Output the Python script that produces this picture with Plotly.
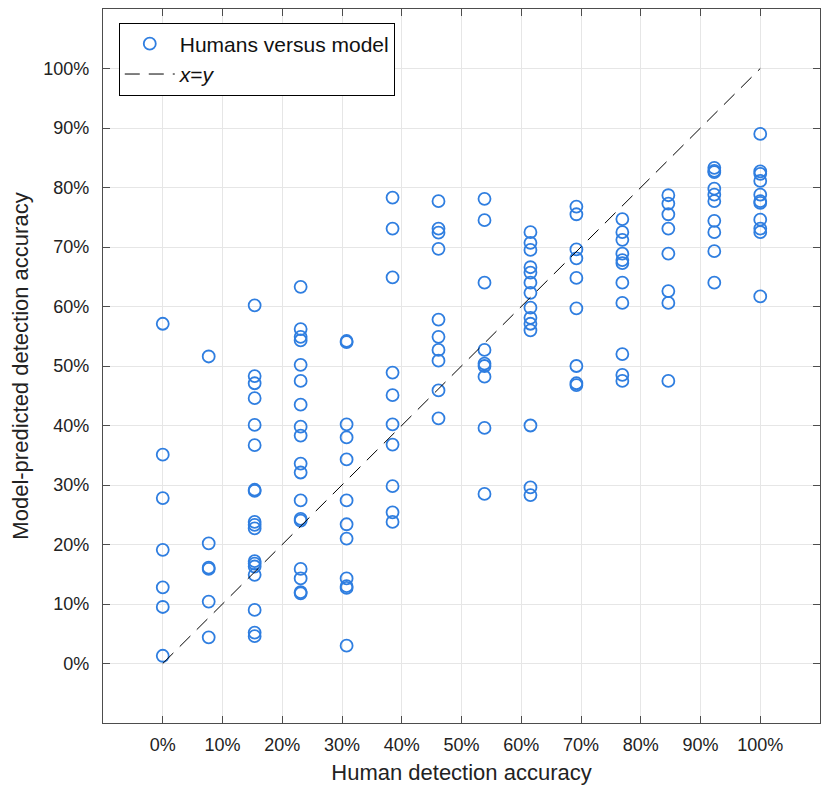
import plotly.graph_objects as go

# Human detection accuracy levels (k/13) and model-predicted accuracies per level
human_levels = [0.0, 7.69, 15.38, 23.08, 30.77, 38.46, 46.15, 53.85, 61.54, 69.23, 76.92, 84.62, 92.31, 100.0]

model_0 = [57.1, 35.1, 27.8, 19.1, 12.8, 9.5, 1.3]
model_8 = [51.6, 20.2, 16.1, 15.9, 10.4, 4.4]
model_15 = [60.2, 48.3, 47.1, 44.6, 40.1, 36.7, 29.2, 29.0, 23.8, 23.3, 22.7, 17.2, 16.8, 16.3, 14.9, 9.0, 5.2, 4.6]
model_23 = [63.3, 56.2, 54.9, 54.3, 50.2, 47.5, 43.5, 39.8, 38.3, 33.6, 32.1, 27.4, 24.3, 24.0, 15.9, 14.3, 12.0, 11.8]
model_31 = [54.2, 54.0, 40.2, 38.0, 34.3, 27.4, 23.4, 21.0, 14.3, 13.0, 12.7, 3.0]
model_38 = [78.3, 73.1, 64.9, 48.9, 45.1, 40.2, 36.8, 29.8, 25.4, 23.8]
model_46 = [77.7, 73.1, 72.4, 69.7, 57.8, 54.9, 52.7, 50.9, 45.9, 41.2]
model_54 = [78.1, 74.5, 64.0, 52.7, 50.4, 50.0, 48.2, 39.6, 28.5]
model_62 = [72.5, 70.7, 69.5, 66.6, 65.7, 64.0, 62.3, 59.8, 58.1, 57.1, 56.0, 40.0, 29.6, 28.3]
model_69 = [76.8, 75.5, 69.6, 68.1, 64.8, 59.7, 50.0, 47.1, 46.8]
model_77 = [74.7, 72.5, 71.2, 68.9, 67.8, 67.3, 64.0, 60.6, 52.0, 48.5, 47.5]
model_85 = [78.7, 77.3, 75.5, 73.1, 68.9, 62.6, 60.6, 47.5]
model_92 = [83.3, 82.8, 82.6, 79.8, 78.8, 77.7, 74.4, 72.5, 69.3, 64.0]
model_100 = [89.0, 82.7, 82.3, 81.1, 78.8, 77.7, 77.4, 74.6, 73.1, 72.5, 61.7]

model_by_level = [model_0, model_8, model_15, model_23, model_31, model_38, model_46,
                  model_54, model_62, model_69, model_77, model_85, model_92, model_100]

diag = [0, 100]
tick_vals = [0, 10, 20, 30, 40, 50, 60, 70, 80, 90, 100]
tick_text = ["0%", "10%", "20%", "30%", "40%", "50%", "60%", "70%", "80%", "90%", "100%"]

xs, ys = [], []
for lvl, vals in zip(human_levels, model_by_level):
    for v in vals:
        xs.append(lvl)
        ys.append(v)

fig = go.Figure()
fig.add_trace(go.Scatter(
    x=xs, y=ys, mode="markers", name="Humans versus model",
    marker=dict(symbol="circle-open", size=12, color="rgb(47,126,224)",
                line=dict(width=1.8, color="rgb(47,126,224)")),
))
fig.add_trace(go.Scatter(
    x=diag, y=diag, mode="lines", name="<i>x</i>=<i>y</i>",
    line=dict(color="black", width=1, dash="15px,9px"),
))

axis_common = dict(
    range=[-10, 110], tickvals=tick_vals, ticktext=tick_text,
    showgrid=True, gridcolor="#e6e6e6", gridwidth=1,
    zeroline=False, showline=True, linecolor="#4d4d4d", linewidth=1.2,
    mirror="allticks", ticks="inside", ticklen=7, tickcolor="#4d4d4d",
    tickfont=dict(family="Liberation Sans, Arial", size=18, color="#222222"),
    automargin=False,
)

# The page body has an 8px margin, so the figure is sized/placed to compensate.
fig.update_layout(
    width=821, height=782,
    margin=dict(l=95, r=9, t=1, b=67),
    paper_bgcolor="white", plot_bgcolor="white",
    xaxis=dict(**axis_common, ticklabelstandoff=5,
               title=dict(text="Human detection accuracy", standoff=10,
                          font=dict(family="Liberation Sans, Arial", size=22, color="#222222"))),
    yaxis=dict(**axis_common, ticklabelstandoff=9,
               title=dict(text="Model-predicted detection accuracy", standoff=13,
                          font=dict(family="Liberation Sans, Arial", size=22, color="#222222"))),
    legend=dict(x=0.022, y=0.981, xanchor="left", yanchor="top",
                bgcolor="white", bordercolor="black", borderwidth=1,
                font=dict(family="Liberation Sans, Arial", size=21, color="#111111"),
                tracegroupgap=0, itemwidth=50),
    showlegend=True,
)

fig.write_html("out.html")
